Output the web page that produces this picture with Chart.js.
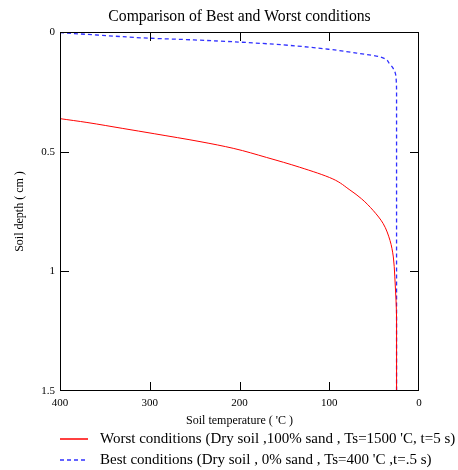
<!DOCTYPE html>
<html>
<head>
<meta charset="utf-8">
<title>Comparison of Best and Worst conditions</title>
<script src="https://cdn.jsdelivr.net/npm/chart.js@4.4.1/dist/chart.umd.min.js"></script>
<style>
  html, body { margin: 0; padding: 0; background: #fff; }
  canvas { display: block; }
</style>
</head>
<body>
<canvas id="soilChart" width="458" height="470"></canvas>
<script>
// values: temperature in 'C, depth in cm
const worstTemp  = [400, 370, 330, 295, 244, 207, 170, 133, 96, 77, 64, 51, 40, 32.3, 28.6, 27, 25.6, 25, 25];
const worstDepth = [0.362, 0.378, 0.403, 0.425, 0.458, 0.486, 0.524, 0.565, 0.614, 0.66, 0.697, 0.746, 0.80, 0.871, 0.94, 1.02, 1.12, 1.2, 1.5];

const bestTemp  = [400, 359, 300, 251, 201, 151, 101, 66, 43.5, 32.3, 27, 25.4, 25, 25];
const bestDepth = [0.003, 0.0125, 0.026, 0.033, 0.042, 0.054, 0.072, 0.09, 0.104, 0.135, 0.165, 0.2, 0.26, 1.5];

const xTicks = [400, 300, 200, 100, 0];
const yTicks = [0, 0.5, 1, 1.5];

const chartTitle = 'Comparison of Best and Worst conditions';
const seriesLabels = [
  "Worst conditions (Dry soil ,100% sand , Ts=1500 'C, t=5 s)",
  "Best conditions (Dry soil , 0% sand , Ts=400 'C ,t=.5 s)"
];
const seriesColors = ['#ff0000', '#3030ff'];

const SERIF = "'Liberation Serif', 'Times New Roman', serif";

function toPoints(xs, ys) {
  return xs.map((x, i) => ({ x: x, y: ys[i] }));
}

// frame round the plot with short ticks pointing inwards on all four sides
const frameTicks = {
  id: 'frameTicks',
  afterDatasetsDraw(chart) {
    const { ctx, chartArea: a, scales } = chart;
    const len = 9;
    ctx.save();
    ctx.strokeStyle = '#000';
    ctx.lineWidth = 1;
    ctx.strokeRect(a.left + 0.5, a.top + 0.5, a.right - a.left - 1, a.bottom - a.top - 1);
    ctx.beginPath();
    xTicks.slice(1, -1).forEach(v => {
      const px = Math.round(scales.x.getPixelForValue(v)) + 0.5;
      ctx.moveTo(px, a.top); ctx.lineTo(px, a.top + len);
      ctx.moveTo(px, a.bottom); ctx.lineTo(px, a.bottom - len);
    });
    yTicks.slice(1, -1).forEach(v => {
      const py = Math.round(scales.y.getPixelForValue(v)) + 0.5;
      ctx.moveTo(a.left, py); ctx.lineTo(a.left + len, py);
      ctx.moveTo(a.right, py); ctx.lineTo(a.right - len, py);
    });
    ctx.stroke();
    ctx.restore();
  }
};

// title centred over the plot, legend rows under the axis title
const titleAndLegend = {
  id: 'titleAndLegend',
  afterDraw(chart) {
    const { ctx, chartArea: a } = chart;
    ctx.save();
    ctx.fillStyle = '#000';
    ctx.font = '15.7px ' + SERIF;
    ctx.textAlign = 'center';
    ctx.textBaseline = 'middle';
    ctx.fillText(chartTitle, (a.left + a.right) / 2, a.top - 15);

    ctx.font = '15px ' + SERIF;
    ctx.textAlign = 'left';
    chart.data.datasets.forEach((ds, i) => {
      const y = a.bottom + 48 + i * 21;
      ctx.strokeStyle = seriesColors[i];
      ctx.lineWidth = 1.5;
      ctx.setLineDash(ds.borderDash || []);
      ctx.beginPath();
      ctx.moveTo(a.left, y);
      ctx.lineTo(a.left + 28, y);
      ctx.stroke();
      ctx.fillText(ds.label, a.left + 40, y);
    });
    ctx.restore();
  }
};

new Chart(document.getElementById('soilChart'), {
  type: 'line',
  data: {
    datasets: [
      {
        label: seriesLabels[0],
        data: toPoints(worstTemp, worstDepth),
        borderColor: seriesColors[0],
        borderWidth: 1,
        pointRadius: 0,
        cubicInterpolationMode: 'monotone'
      },
      {
        label: seriesLabels[1],
        data: toPoints(bestTemp, bestDepth),
        borderColor: seriesColors[1],
        borderWidth: 1.3,
        borderDash: [4, 3],
        pointRadius: 0,
        cubicInterpolationMode: 'monotone'
      }
    ]
  },
  options: {
    responsive: false,
    animation: false,
    indexAxis: 'y',
    layout: { padding: { top: 32, left: 0, right: 39, bottom: 39 } },
    plugins: {
      legend: { display: false },
      tooltip: { enabled: false },
      title: { display: false }
    },
    scales: {
      x: {
        type: 'linear',
        position: 'bottom',
        reverse: true,
        min: 0,
        max: 400,
        afterFit(scale) { scale.height = 40; },
        afterBuildTicks(scale) { scale.ticks = xTicks.map(v => ({ value: v })); },
        grid: { display: false, drawTicks: false },
        border: { display: false },
        ticks: {
          color: '#000',
          padding: 6,
          maxRotation: 0,
          callback: v => String(v),
          font: { family: SERIF, size: 11 }
        },
        title: {
          display: true,
          text: "Soil temperature ( 'C )",
          color: '#000',
          font: { family: SERIF, size: 12 },
          padding: { top: 0, bottom: 3 }
        }
      },
      y: {
        type: 'linear',
        position: 'left',
        reverse: true,
        min: 0,
        max: 1.5,
        afterFit(scale) { scale.width = 60; },
        afterBuildTicks(scale) { scale.ticks = yTicks.map(v => ({ value: v })); },
        grid: { display: false, drawTicks: false },
        border: { display: false },
        ticks: {
          color: '#000',
          padding: 5,
          callback: v => String(v),
          font: { family: SERIF, size: 11 }
        },
        title: {
          display: true,
          text: 'Soil depth ( cm )',
          color: '#000',
          font: { family: SERIF, size: 12 },
          padding: { top: 13, bottom: 0 }
        }
      }
    }
  },
  plugins: [frameTicks, titleAndLegend]
});
</script>
</body>
</html>
